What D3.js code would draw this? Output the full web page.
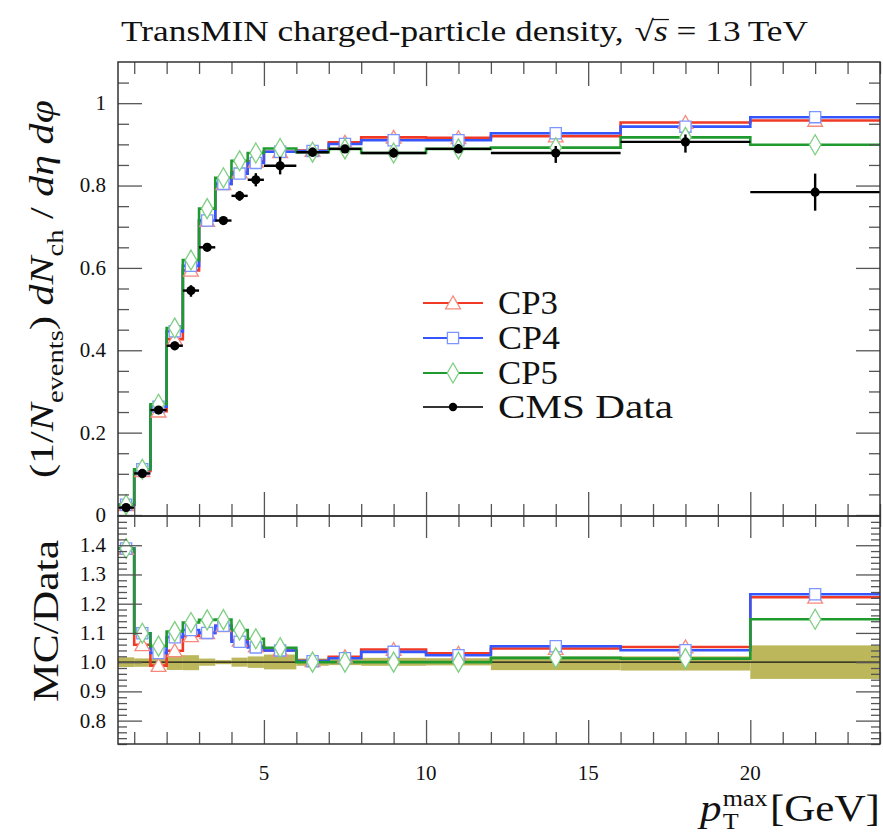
<!DOCTYPE html>
<html>
<head>
<meta charset="utf-8">
<script src="https://cdn.jsdelivr.net/npm/d3@7"></script>
<style>
  body { margin: 0; background: #fff; }
  svg { display: block; }
  text { font-family: "Liberation Serif", "Times New Roman", Times, serif; fill: #111; white-space: pre; }
</style>
</head>
<body>
<svg id="chart" width="883" height="835"></svg>
<script>
// Bin edges in pT^max [GeV]
const binEdges = [0.5, 1, 1.5, 2, 2.5, 3, 3.5, 4, 4.5, 5, 6, 7, 8, 10, 12, 16, 20, 24];

// CMS data: density per bin with uncertainties
const dataValues = [0.018, 0.101, 0.255, 0.411, 0.545, 0.650, 0.715, 0.775, 0.814, 0.848, 0.881, 0.889, 0.879, 0.889, 0.879, 0.906, 0.784];
const dataErrUp  = [0.0003, 0.0013, 0.0033, 0.010, 0.013, 0.008, 0.005, 0.012, 0.016, 0.022, 0.011, 0.009, 0.013, 0.012, 0.017, 0.018, 0.045];
const dataErrDn  = [0.0003, 0.0016, 0.0040, 0.011, 0.015, 0.008, 0.005, 0.012, 0.016, 0.021, 0.011, 0.009, 0.011, 0.010, 0.024, 0.026, 0.045];

// Generator tunes
const cp3Values = [0.025, 0.107, 0.252, 0.427, 0.594, 0.715, 0.804, 0.833, 0.859, 0.882, 0.885, 0.905, 0.917, 0.916, 0.920, 0.953, 0.958];
const cp4Values = [0.025, 0.111, 0.263, 0.446, 0.605, 0.715, 0.804, 0.829, 0.855, 0.882, 0.884, 0.901, 0.910, 0.910, 0.927, 0.943, 0.966];
const cp5Values = [0.025, 0.111, 0.269, 0.454, 0.619, 0.744, 0.819, 0.860, 0.879, 0.890, 0.881, 0.889, 0.879, 0.889, 0.892, 0.917, 0.899];

const seriesNames = ["CP3", "CP4", "CP5"];
const dataName = "CMS Data";

// Axis ticks and labels
const xMajorTicks = [5, 10, 15, 20];
const xTickLabels = ["5", "10", "15", "20"];
const mainYTicks = [0, 0.2, 0.4, 0.6, 0.8, 1.0];
const mainYTickLabels = ["0", "0.2", "0.4", "0.6", "0.8", "1"];
const ratioYTicks = [0.8, 0.9, 1.0, 1.1, 1.2, 1.3, 1.4];
const ratioYTickLabels = ["0.8", "0.9", "1.0", "1.1", "1.2", "1.3", "1.4"];

// ---------------------------------------------------------------
const svg = d3.select("#chart");
const X0 = 118, X1 = 880, MT = 62, MB = 516, RT = 516, RB = 744;

const x = d3.scaleLinear().domain([0.5, 24]).range([X0, X1]);
const yM = d3.scaleLinear().domain([0, 1.1]).range([515, MT]);
const yR = d3.scaleLinear().domain([0.72, 1.5]).range([RB, RT]);

const styles = [
  { line: "#f03a26", mark: "#f58a7c", sym: d3.symbolTriangle, size: 95, dy: 1.5 },
  { line: "#3556ff", mark: "#7d95ff", sym: d3.symbolSquare, size: 125, dy: 0 },
  { line: "#1f9a2e", mark: "#7fcf83", sym: d3.symbolDiamond, size: 115, dy: 0 }
];
const mcSeries = [cp3Values, cp4Values, cp5Values];
const centers = binEdges.slice(0, -1).map((e, i) => (e + binEdges[i + 1]) / 2);

const defs = svg.append("defs");
defs.append("clipPath").attr("id", "clipMain").append("rect")
  .attr("x", X0).attr("y", MT).attr("width", X1 - X0).attr("height", MB - MT);
defs.append("clipPath").attr("id", "clipRatio").append("rect")
  .attr("x", X0).attr("y", RT).attr("width", X1 - X0).attr("height", RB - RT);

function stepPath(yScale, vals) {
  const pts = binEdges.map((e, i) => [e, vals[Math.min(i, vals.length - 1)]]);
  return d3.line().x(d => x(d[0])).y(d => yScale(d[1])).curve(d3.curveStepAfter)(pts);
}

// ---------- ratio band (data uncertainty) ----------
const gRatio = svg.append("g").attr("clip-path", "url(#clipRatio)");
gRatio.selectAll("rect.band").data(dataValues).join("rect")
  .attr("x", (d, i) => x(binEdges[i]))
  .attr("width", (d, i) => x(binEdges[i + 1]) - x(binEdges[i]))
  .attr("y", (d, i) => yR(1 + dataErrUp[i] / d))
  .attr("height", (d, i) => yR(1 - dataErrDn[i] / d) - yR(1 + dataErrUp[i] / d))
  .attr("fill", "#bdb75c");
gRatio.append("line").attr("x1", X0).attr("x2", X1).attr("y1", yR(1)).attr("y2", yR(1))
  .attr("stroke", "#111").attr("stroke-width", 1.3);

// ---------- MC histograms ----------
const gMain = svg.append("g").attr("clip-path", "url(#clipMain)");
mcSeries.forEach((vals, k) => {
  const st = styles[k];
  const ratio = vals.map((v, i) => v / dataValues[i]);
  gMain.append("path").attr("d", stepPath(yM, vals))
    .attr("fill", "none").attr("stroke", st.line).attr("stroke-width", 2.6);
  gRatio.append("path").attr("d", stepPath(yR, ratio))
    .attr("fill", "none").attr("stroke", st.line).attr("stroke-width", 2.6);
});
mcSeries.forEach((vals, k) => {
  const st = styles[k];
  const ratio = vals.map((v, i) => v / dataValues[i]);
  const sym = d3.symbol().type(st.sym).size(st.size);
  gMain.selectAll(null).data(vals).join("path")
    .attr("d", sym)
    .attr("transform", (d, i) => `translate(${x(centers[i])},${yM(d) + st.dy})`)
    .attr("fill", "#fff").attr("stroke", st.mark).attr("stroke-width", 1.3);
  gRatio.selectAll(null).data(ratio).join("path")
    .attr("d", sym)
    .attr("transform", (d, i) => `translate(${x(centers[i])},${yR(d) + st.dy})`)
    .attr("fill", "#fff").attr("stroke", st.mark).attr("stroke-width", 1.3);
});

// ---------- data points ----------
const gData = gMain.append("g");
dataValues.forEach((v, i) => {
  gData.append("line")
    .attr("x1", x(binEdges[i])).attr("x2", x(binEdges[i + 1]))
    .attr("y1", yM(v)).attr("y2", yM(v))
    .attr("stroke", "#000").attr("stroke-width", 2.4);
  gData.append("line")
    .attr("x1", x(centers[i])).attr("x2", x(centers[i]))
    .attr("y1", yM(v + dataErrUp[i])).attr("y2", yM(v - dataErrDn[i]))
    .attr("stroke", "#000").attr("stroke-width", 2.4);
});
gData.selectAll("circle").data(dataValues).join("circle")
  .attr("cx", (d, i) => x(centers[i])).attr("cy", d => yM(d))
  .attr("r", 4.6).attr("fill", "#000");

// ---------- axes ----------
function tickSet(axisFn, scale, values, size, tx, ty) {
  const g = svg.append("g").attr("transform", `translate(${tx},${ty})`)
    .call(axisFn(scale).tickValues(values).tickSize(size).tickFormat(""));
  g.select(".domain").remove();
  g.selectAll("line").attr("stroke", "#555").attr("stroke-width", 1.3);
  return g;
}
const xMinor = d3.range(1, 25).filter(v => !xMajorTicks.includes(v));
const mainMinor = d3.range(0, 22).map(i => +(i * 0.05).toFixed(2)).filter(v => !mainYTicks.some(t => Math.abs(t - v) < 1e-6));
const ratioMinor = d3.range(36, 75).map(i => +(i * 0.02).toFixed(2)).filter(v => !ratioYTicks.some(t => Math.abs(t - v) < 1e-6));

// main panel
tickSet(d3.axisLeft, yM, mainYTicks, -24, X0, 0);
tickSet(d3.axisLeft, yM, mainMinor, -11, X0, 0);
tickSet(d3.axisRight, yM, mainYTicks, -24, X1, 0);
tickSet(d3.axisRight, yM, mainMinor, -11, X1, 0);
tickSet(d3.axisTop, x, xMajorTicks, -24, 0, MT);
tickSet(d3.axisTop, x, xMinor, -12, 0, MT);
tickSet(d3.axisBottom, x, xMajorTicks, -24, 0, MB);
tickSet(d3.axisBottom, x, xMinor, -12, 0, MB);
// ratio panel
tickSet(d3.axisLeft, yR, ratioYTicks, -24, X0, 0);
tickSet(d3.axisLeft, yR, ratioMinor, -9, X0, 0);
tickSet(d3.axisRight, yR, ratioYTicks, -24, X1, 0);
tickSet(d3.axisRight, yR, ratioMinor, -9, X1, 0);
tickSet(d3.axisTop, x, xMajorTicks, -22, 0, RT);
tickSet(d3.axisTop, x, xMinor, -11, 0, RT);
tickSet(d3.axisBottom, x, xMajorTicks, -24, 0, RB);
tickSet(d3.axisBottom, x, xMinor, -12, 0, RB);

// tick labels
const labStyle = s => s.style("font-size", "21px");
svg.append("g").selectAll("text").data(mainYTicks).join("text")
  .attr("x", X0 - 12).attr("y", d => yM(d)).attr("dy", "0.33em")
  .attr("text-anchor", "end").text((d, i) => mainYTickLabels[i]).call(labStyle);
svg.append("g").selectAll("text").data(ratioYTicks).join("text")
  .attr("x", X0 - 12).attr("y", d => yR(d)).attr("dy", "0.33em")
  .attr("text-anchor", "end").text((d, i) => ratioYTickLabels[i]).call(labStyle);
svg.append("g").selectAll("text").data(xMajorTicks).join("text")
  .attr("x", d => x(d)).attr("y", 780)
  .attr("text-anchor", "middle").text((d, i) => xTickLabels[i]).call(labStyle);

// frames
[[MT, MB], [RT, RB]].forEach(([t, b]) => {
  svg.append("rect").attr("x", X0).attr("y", t).attr("width", X1 - X0).attr("height", b - t)
    .attr("fill", "none").attr("stroke", "#333").attr("stroke-width", 1.5);
});

// ---------- rich text helpers ----------
function rich(parent, parts, fs) {
  const t = parent.append("text").style("font-size", fs + "px");
  let shift = 0;
  parts.forEach(p => {
    const ts = t.append("tspan").text(p.t);
    if (p.i) ts.style("font-style", "italic");
    const target = p.sub ? fs * 0.3 : (p.sup ? -fs * 0.42 : 0);
    if (target !== shift) { ts.attr("dy", target - shift); shift = target; }
    if (p.sub || p.sup) ts.style("font-size", (fs * 0.68) + "px");
  });
  return t;
}
// stretch a text horizontally (in its own frame) so it spans `target` px, centred at origin
function fitCentered(g, t, target) {
  t.attr("text-anchor", "middle");
  const w = t.node().getBBox().width;
  t.attr("transform", `scale(${target / w},1)`);
}

// y-axis title (main)
{
  const g = svg.append("g").attr("transform", "translate(53,289) rotate(-90)");
  const t = rich(g, [
    { t: "(1/" }, { t: "N", i: true }, { t: "events", sub: true }, { t: ") " },
    { t: "dN", i: true }, { t: "ch", sub: true }, { t: " / " }, { t: "d\u03b7 d\u03c6", i: true }
  ], 33);
  fitCentered(g, t, 378);
}
// y-axis title (ratio)
{
  const g = svg.append("g").attr("transform", "translate(58,621) rotate(-90)");
  const t = g.append("text").style("font-size", "36px").text("MC/Data");
  fitCentered(g, t, 162);
}

// x-axis title
{
  const g = svg.append("g");
  const fs = 38;
  const p = g.append("text").attr("x", 0).attr("y", 0).style("font-size", fs + "px").style("font-style", "italic").text("p");
  const pw = p.node().getComputedTextLength();
  const sup = g.append("text").attr("x", pw + 1).attr("y", -15).style("font-size", "23px").text("max");
  const sub = g.append("text").attr("x", pw + 1).attr("y", 8).style("font-size", "23px").text("T");
  const sw = Math.max(sup.node().getComputedTextLength(), sub.node().getComputedTextLength());
  const gev = g.append("text").attr("x", pw + sw + 3).attr("y", 0).style("font-size", fs + "px").text("[GeV]");
  const total = pw + sw + 3 + gev.node().getComputedTextLength();
  const k = 180 / total;
  g.attr("transform", `translate(${880 - 180},821) scale(${k},1)`);
}

// title
{
  const g = svg.append("g");
  const fs = 29;
  let cx = 0;
  const piece = (txt, italic) => {
    const t = g.append("text").attr("x", cx).attr("y", 0).style("font-size", fs + "px").text(txt);
    if (italic) t.style("font-style", "italic");
    const w = t.node().getComputedTextLength();
    const start = cx; cx += w;
    return { t, start, w };
  };
  piece("TransMIN charged-particle density,");
  cx += fs * 0.3;
  const rad = piece("\u221a");
  const s = piece("s", true);
  g.append("line").attr("x1", rad.start + rad.w - 1).attr("x2", s.start + s.w + 1)
    .attr("y1", -fs * 0.74).attr("y2", -fs * 0.74).attr("stroke", "#111").attr("stroke-width", 1.2);
  cx += fs * 0.25;
  piece("= 13\u2009TeV");
  const k = 687 / cx;
  g.attr("transform", `translate(121,41) scale(${k},1)`);
}

// ---------- legend ----------
{
  const rows = [303, 338, 373, 407];
  const g = svg.append("g");
  const names = seriesNames.concat([dataName]);
  names.forEach((name, k) => {
    const yy = rows[k];
    if (k < 3) {
      const st = styles[k];
      g.append("line").attr("x1", 423).attr("x2", 483).attr("y1", yy).attr("y2", yy)
        .attr("stroke", st.line).attr("stroke-width", 2.2);
      g.append("path").attr("d", d3.symbol().type(st.sym).size(st.size)())
        .attr("transform", `translate(453,${yy + st.dy})`)
        .attr("fill", "#fff").attr("stroke", st.mark).attr("stroke-width", 1.3);
    } else {
      g.append("line").attr("x1", 423).attr("x2", 483).attr("y1", yy).attr("y2", yy)
        .attr("stroke", "#333").attr("stroke-width", 2.2);
      g.append("circle").attr("cx", 453).attr("cy", yy).attr("r", 4.2).attr("fill", "#000");
    }
    const t = g.append("text").attr("x", 498).attr("y", yy + 11).style("font-size", "33px").text(name);
    const target = [60, 62, 60, 175][k];
    const w = t.node().getComputedTextLength();
    t.attr("transform", `translate(498,0) scale(${target / w},1) translate(-498,0)`);
  });
}
</script>
</body>
</html>
